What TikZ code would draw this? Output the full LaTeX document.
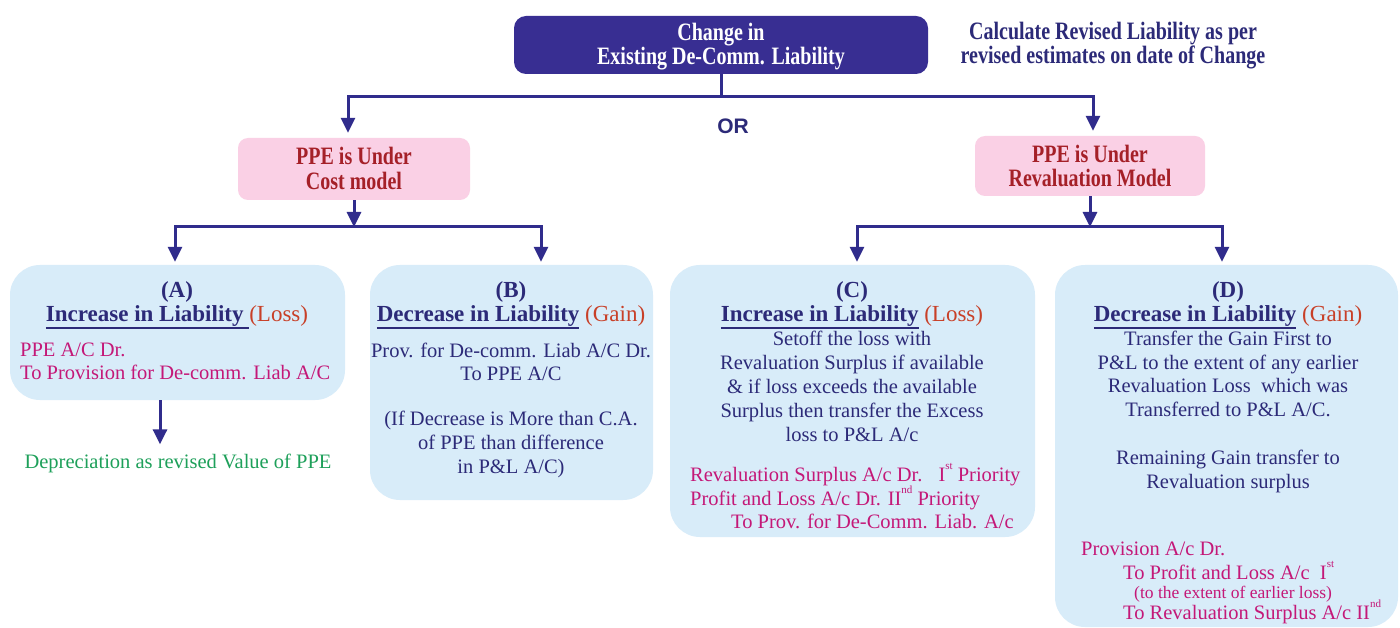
\documentclass[tikz,border=0pt]{standalone}
\usepackage{fontspec}
\setmainfont{Liberation Serif}
\newfontfamily\condf[FakeStretch=0.8]{Liberation Serif}
\newfontfamily\arialf{Liberation Sans}
\usetikzlibrary{arrows.meta,calc}
\definecolor{indigo}{RGB}{56,46,146}
\definecolor{navy}{RGB}{44,42,120}
\definecolor{arrowc}{RGB}{48,44,140}
\definecolor{pinkfill}{RGB}{250,208,229}
\definecolor{pinktext}{RGB}{165,32,40}
\definecolor{bluefill}{RGB}{216,236,249}
\definecolor{losscol}{RGB}{200,64,40}
\definecolor{mag}{RGB}{196,24,120}
\definecolor{greent}{RGB}{30,160,90}
\newcommand\hul[1]{\leavevmode\vtop{\hbox{#1}\kern1.5pt\hrule height 1.6pt}}
\newcommand\sps[1]{\raisebox{0.55em}{\fontsize{11}{11}\selectfont #1}}
\newcommand\paren[1]{{\mdseries\color{losscol}#1}}
\tikzset{
  conn/.style={draw=arrowc, line width=3pt},
  arr/.style={conn, -{Triangle[width=14pt,length=15pt]}},
  topbox/.style={rectangle, rounded corners=12pt, fill=indigo, minimum width=414pt, minimum height=58pt, inner sep=0pt},
  pinkbox/.style={rectangle, rounded corners=10pt, fill=pinkfill, inner sep=0pt},
  bluebox/.style={rectangle, rounded corners=30pt, fill=bluefill, inner sep=0pt},
  ln/.style={anchor=base, inner sep=0pt, font=\fontsize{20.5}{24}\selectfont, text=navy},
  lnm/.style={anchor=base west, inner sep=0pt, font=\fontsize{20.5}{24}\selectfont, text=mag},
  hd/.style={anchor=base, inner sep=0pt, font=\fontsize{23}{26}\selectfont\bfseries, text=navy},
  cd/.style={anchor=base, inner sep=0pt, font=\condf\fontsize{25}{28}\selectfont\bfseries},
}
\begin{document}
\begin{tikzpicture}[x=1pt,y=-1pt]
\fill[white] (0,0) rectangle (1400,628);
\useasboundingbox (0,0) rectangle (1400,628);

% top
\node[topbox] (top) at (721,45) {};
\node[cd,text=white] (top1) at (721,41) {Change in};
\node[cd,text=white] (top2) at (721,65) {Existing De-Comm. Liability};
\node[cd,text=navy] (calc1) at (1113,40) {Calculate Revised Liability as per};
\node[cd,text=navy] (calc2) at (1113,64) {revised estimates on date of Change};
\node[anchor=base,inner sep=0pt,font=\arialf\bfseries\fontsize{21}{24}\selectfont,text=navy] (or) at (733,134) {OR};

% pink boxes
\node[pinkbox, minimum width=232pt, minimum height=62pt] (cost) at (354,169) {};
\node[cd,text=pinktext] (cost1) at (354,165) {PPE is Under};
\node[cd,text=pinktext] (cost2) at (354,190) {Cost model};
\node[pinkbox, minimum width=230pt, minimum height=60pt] (reval) at (1090,166) {};
\node[cd,text=pinktext] (reval1) at (1090,163) {PPE is Under};
\node[cd,text=pinktext] (reval2) at (1090,187) {Revaluation Model};

% blue boxes
\node[bluebox, minimum width=335pt, minimum height=135pt] (A) at (177.5,332.5) {};
\node[bluebox, minimum width=283pt, minimum height=235pt] (B) at (511.5,382.5) {};
\node[bluebox, minimum width=365pt, minimum height=272pt] (C) at (852.5,401) {};
\node[bluebox, minimum width=343pt, minimum height=362pt] (D) at (1226.5,446) {};

% connectors
\coordinate (j0) at (721,97);
\draw[conn] (top.south) -- (j0);
\draw[arr,shorten >=5pt] (j0) -| ([xshift=-6pt]cost.north);
\draw[arr,shorten >=5pt] (j0) -| ([xshift=3pt]reval.north);
\coordinate (j1) at (354,227);
\draw[arr] (cost.south) -- (j1);
\draw[arr,shorten >=3pt] (j1) -| ([xshift=-2.5pt]A.north);
\draw[arr,shorten >=3pt] (j1) -| ([xshift=29.5pt]B.north);
\coordinate (j2) at (1090,227);
\draw[arr] (reval.south) -- (j2);
\draw[arr,shorten >=3pt] (j2) -| ([xshift=4.5pt]C.north);
\draw[arr,shorten >=3pt] (j2) -| ([xshift=-4.5pt]D.north);

% box A
\node[hd] (Ah) at (177,298) {(A)};
\node[hd] (At) at (177,321) {\hul{Increase in Liability\ }\paren{(Loss)}};
\node[lnm] (A1) at (20,356) {PPE A/C Dr.};
\node[lnm] (A2) at (20,379) {To Provision for De-comm. Liab A/C};
\node[ln,text=greent] (dep) at (178,468) {Depreciation as revised Value of PPE};
\draw[arr,shorten >=9pt] ([xshift=-17.5pt]A.south) -- ([xshift=-17.5pt]A.south |- dep.north);

% box B
\node[hd] (Bh) at (511,298) {(B)};
\node[hd] (Bt) at (511,321) {\hul{Decrease in Liability}\ \paren{(Gain)}};
\node[ln] (B1) at (511,357) {Prov. for De-comm. Liab A/C Dr.};
\node[ln] (B2) at (511,380) {To PPE A/C};
\node[ln] (B3) at (511,425) {(If Decrease is More than C.A.};
\node[ln] (B4) at (511,449) {of PPE than difference};
\node[ln] (B5) at (511,473) {in P\&L A/C)};

% box C
\node[hd] (Ch) at (852,298) {(C)};
\node[hd] (Ct) at (852,321) {\hul{Increase in Liability}\ \paren{(Loss)}};
\node[ln] (C1) at (852,345) {Setoff the loss with};
\node[ln] (C2) at (852,369) {Revaluation Surplus if available};
\node[ln] (C3) at (852,393) {\& if loss exceeds the available};
\node[ln] (C4) at (852,417) {Surplus then transfer the Excess};
\node[ln] (C5) at (852,441) {loss to P\&L A/c};
\node[lnm] (C6) at (690,481) {Revaluation Surplus A/c Dr.\hspace{16pt}I\sps{st} Priority};
\node[lnm] (C7) at (690,505) {Profit and Loss A/c Dr. II\sps{nd} Priority};
\node[lnm] (C8) at (731,528) {To Prov. for De-Comm. Liab. A/c};

% box D
\node[hd] (Dh) at (1228,298) {(D)};
\node[hd] (Dt) at (1228,321) {\hul{Decrease in Liability}\ \paren{(Gain)}};
\node[ln] (D1) at (1228,345) {Transfer the Gain First to};
\node[ln] (D2) at (1228,369) {P\&L to the extent of any earlier};
\node[ln] (D3) at (1228,392) {Revaluation Loss\ \ which was};
\node[ln] (D4) at (1228,416) {Transferred to P\&L A/C.};
\node[ln] (D5) at (1228,464) {Remaining Gain transfer to};
\node[ln] (D6) at (1228,488) {Revaluation surplus};
\node[lnm] (D7) at (1081,555) {Provision A/c Dr.};
\node[lnm] (D8) at (1123,579) {To Profit and Loss A/c\ \ I\sps{st}};
\node[lnm,font=\fontsize{17.5}{19}\selectfont] (D9) at (1134,598) {(to the extent of earlier loss)};
\node[lnm] (D10) at (1123,619) {To Revaluation Surplus A/c II\sps{nd}};
\end{tikzpicture}
\end{document}
